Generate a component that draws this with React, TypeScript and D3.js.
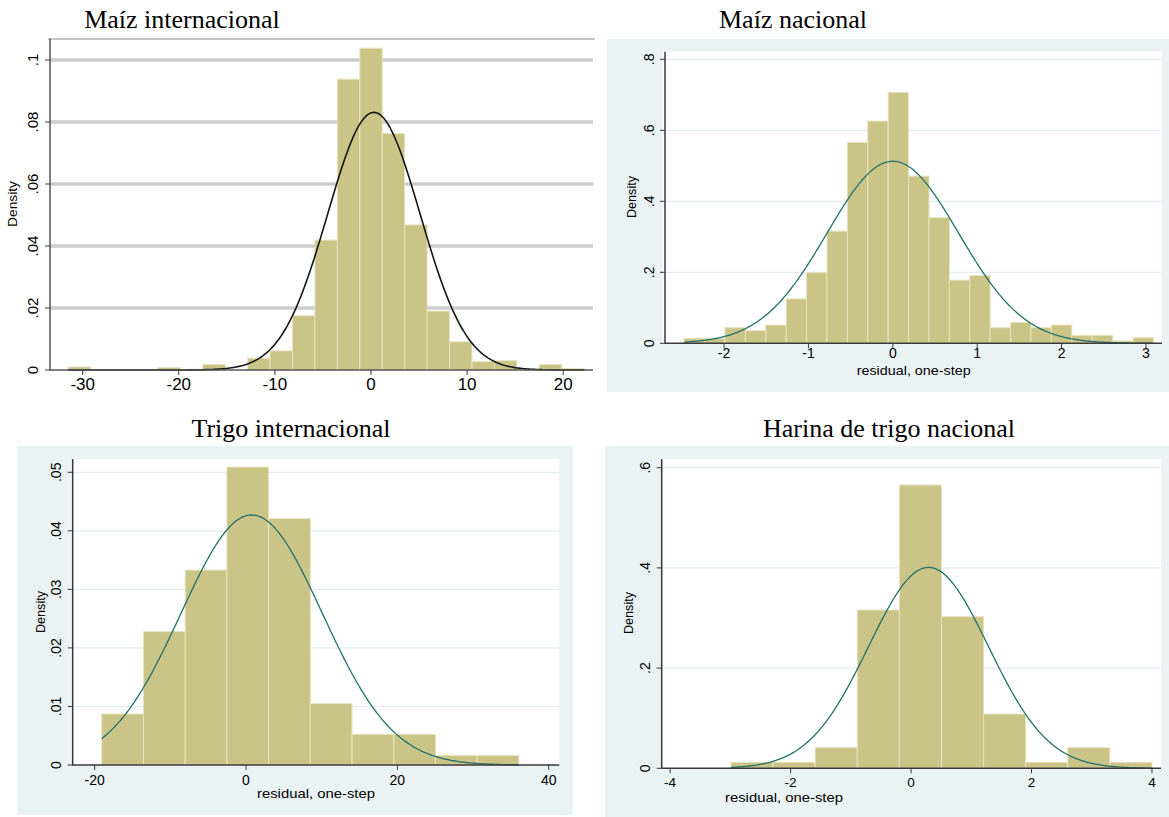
import React from "react";
import * as d3 from "d3";

// ---------- Data ----------
// Panel 1: Maíz internacional
const maizIntBinStart = -31.52;
const maizIntBinWidth = 2.335;
const maizIntDensity = [
  0.001, 0, 0, 0, 0.0008, 0, 0.0018, 0, 0.0038, 0.0062, 0.0175, 0.0419, 0.0938,
  0.1038, 0.0763, 0.0468, 0.019, 0.0091, 0.0027, 0.003, 0, 0.0018, 0.0005,
];
const maizIntMu = 0.3;
const maizIntSigma = 4.8;
const maizIntXTicks = [-30, -20, -10, 0, 10, 20];
const maizIntYTicks = [0, 0.02, 0.04, 0.06, 0.08, 0.1];

// Panel 2: Maíz nacional
const maizNacBinStart = -2.473;
const maizNacBinWidth = 0.2418;
const maizNacDensity = [
  0.014, 0.014, 0.044, 0.0355, 0.0515, 0.125, 0.199, 0.316, 0.566, 0.626, 0.707,
  0.471, 0.354, 0.178, 0.191, 0.044, 0.059, 0.044, 0.0515, 0.0225, 0.0225, 0.0065,
  0.0158,
];
const maizNacMu = 0.0;
const maizNacSigma = 0.778;
const maizNacXTicks = [-2, -1, 0, 1, 2, 3];
const maizNacYTicks = [0, 0.2, 0.4, 0.6, 0.8];

// Panel 3: Trigo internacional
const trigoIntBinStart = -19.06;
const trigoIntBinWidth = 5.512;
const trigoIntDensity = [
  0.00872, 0.0228, 0.0333, 0.0509, 0.0421, 0.0105, 0.00524, 0.00524, 0.00165, 0.00165,
];
const trigoIntMu = 0.75;
const trigoIntSigma = 9.34;
const trigoIntXTicks = [-20, 0, 20, 40];
const trigoIntYTicks = [0, 0.01, 0.02, 0.03, 0.04, 0.05];

// Panel 4: Harina de trigo nacional
const harinaBinStart = -2.99;
const harinaBinWidth = 0.699;
const harinaDensity = [
  0.012, 0.012, 0.0412, 0.316, 0.5655, 0.3026, 0.1084, 0.012, 0.0412, 0.012,
];
const harinaMu = 0.29;
const harinaSigma = 0.995;
const harinaXTicks = [-4, -2, 0, 2, 4];
const harinaYTicks = [0, 0.2, 0.4, 0.6];

const titles = [
  "Maíz internacional",
  "Maíz nacional",
  "Trigo internacional",
  "Harina de trigo nacional",
];
const xAxisTitle = "residual, one-step";
const yAxisTitle = "Density";

// ---------- Styles ----------
const BAR_FILL = "#cbc487";
const BAR_STROKE = "#e7e3c2";
const BG = "#eaf2f3";
const GRID = "#e3ecef";
const AXIS = "#3a3a3a";
const TEAL = "#25706b";
const SANS = "'Liberation Sans', Arial, sans-serif";
const SERIF = "'Liberation Serif', 'Times New Roman', serif";

type PanelCfg = {
  title: string;
  titleX: number;
  titleY: number;
  bg?: [number, number, number, number];
  plot?: [number, number, number, number];
  xDomain: [number, number];
  xRange: [number, number];
  yDomain: [number, number];
  yRange: [number, number];
  xTicks: number[];
  yTicks: number[];
  binStart: number;
  binWidth: number;
  density: number[];
  mu: number;
  sigma: number;
  curveColor: string;
  curveWidth: number;
  classic: boolean;
  xTickFont: number;
  yTickFont: number;
  xTickDy: number;
  yTickDx: number;
  xLabel?: { x: number; y: number; len: number };
  densityLabel: { x: number; y: number; len: number; size: number };
  axisTop: number;
  axisRight: number;
};

const fmtY = (v: number) =>
  v === 0 ? "0" : d3.format(".2~f")(v).replace(/^0/, "");

function Panel({ c }: { c: PanelCfg }) {
  const x = d3.scaleLinear().domain(c.xDomain).range(c.xRange);
  const y = d3.scaleLinear().domain(c.yDomain).range(c.yRange);
  const y0 = y(0);
  const binEnd = c.binStart + c.binWidth * c.density.length;
  const pdf = (v: number) =>
    Math.exp(-0.5 * ((v - c.mu) / c.sigma) ** 2) / (c.sigma * Math.sqrt(2 * Math.PI));
  const pts = d3.range(0, 301).map((i) => {
    const v = c.binStart + ((binEnd - c.binStart) * i) / 300;
    return [v, pdf(v)] as [number, number];
  });
  const line = d3
    .line<[number, number]>()
    .x((d) => x(d[0]))
    .y((d) => y(d[1]));
  const axisLeft = c.xRange[0];

  return (
    <g>
      {c.bg && (
        <rect x={c.bg[0]} y={c.bg[1]} width={c.bg[2] - c.bg[0]} height={c.bg[3] - c.bg[1]} fill={BG} />
      )}
      {c.plot && (
        <rect
          x={c.plot[0]}
          y={c.plot[1]}
          width={c.plot[2] - c.plot[0]}
          height={c.plot[3] - c.plot[1]}
          fill="#fff"
        />
      )}
      <text
        x={c.titleX}
        y={c.titleY}
        textAnchor="middle"
        fontFamily={SERIF}
        fontSize={26}
        fill="#000"
      >
        {c.title}
      </text>
      {/* grid */}
      {c.yTicks
        .filter((t) => t !== 0)
        .map((t) =>
          c.classic ? (
            <g key={"g" + t}>
              <line x1={axisLeft} x2={c.axisRight} y1={y(t)} y2={y(t)} stroke="#b4b4b4" strokeWidth={3} />
              <line x1={axisLeft} x2={c.axisRight} y1={y(t)} y2={y(t)} stroke="#e6e6e6" strokeWidth={1} />
            </g>
          ) : (
            <line key={"g" + t} x1={axisLeft} x2={c.axisRight} y1={y(t)} y2={y(t)} stroke={GRID} strokeWidth={1.2} />
          )
        )}
      {c.classic && (
        <line x1={axisLeft - 2} x2={c.axisRight + 2} y1={c.axisTop} y2={c.axisTop} stroke="#b0b0b0" strokeWidth={1.5} />
      )}
      {/* bars */}
      {c.density.map((d, i) =>
        d > 0 ? (
          <rect
            key={"b" + i}
            x={x(c.binStart + i * c.binWidth)}
            y={y(d)}
            width={x(c.binStart + (i + 1) * c.binWidth) - x(c.binStart + i * c.binWidth)}
            height={y0 - y(d)}
            fill={BAR_FILL}
            stroke={BAR_STROKE}
            strokeWidth={1}
          />
        ) : null
      )}
      {/* normal curve */}
      <path d={line(pts) || ""} fill="none" stroke={c.curveColor} strokeWidth={c.curveWidth} />
      {/* axes */}
      <line x1={axisLeft} x2={axisLeft} y1={c.axisTop} y2={y0 + 0.5} stroke={c.classic ? "#555" : AXIS} strokeWidth={1.5} />
      <line x1={axisLeft} x2={c.axisRight} y1={y0} y2={y0} stroke={c.classic ? "#555" : AXIS} strokeWidth={1.5} />
      {c.yTicks.map((t) => (
        <g key={"yt" + t}>
          <line x1={axisLeft - 5} x2={axisLeft} y1={y(t)} y2={y(t)} stroke={AXIS} strokeWidth={1} />
          <text
            transform={`translate(${axisLeft - c.yTickDx},${y(t)}) rotate(-90)`}
            textAnchor="middle"
            fontFamily={SANS}
            fontSize={c.yTickFont}
            fill="#000"
          >
            {fmtY(t)}
          </text>
        </g>
      ))}
      {c.xTicks.map((t) => (
        <g key={"xt" + t}>
          <line x1={x(t)} x2={x(t)} y1={y0} y2={y0 + 5} stroke={AXIS} strokeWidth={1} />
          <text
            x={x(t)}
            y={y0 + c.xTickDy}
            textAnchor="middle"
            fontFamily={SANS}
            fontSize={c.xTickFont}
            fill="#000"
          >
            {t}
          </text>
        </g>
      ))}
      {c.xLabel && (
        <text
          x={c.xLabel.x}
          y={c.xLabel.y}
          textAnchor="middle"
          fontFamily={SANS}
          fontSize={13.5}
          textLength={c.xLabel.len}
          lengthAdjust="spacingAndGlyphs"
          fill="#000"
        >
          {xAxisTitle}
        </text>
      )}
      <text
        transform={`translate(${c.densityLabel.x},${c.densityLabel.y}) rotate(-90)`}
        textAnchor="middle"
        fontFamily={SANS}
        fontSize={c.densityLabel.size}
        textLength={c.densityLabel.len}
        lengthAdjust="spacingAndGlyphs"
        fill="#000"
      >
        {yAxisTitle}
      </text>
    </g>
  );
}

const panels: PanelCfg[] = [
  {
    title: titles[0],
    titleX: 182,
    titleY: 28,
    xDomain: [-33.4, 23.1],
    xRange: [50, 593],
    yDomain: [0, 0.1],
    yRange: [370, 60],
    xTicks: maizIntXTicks,
    yTicks: maizIntYTicks,
    binStart: maizIntBinStart,
    binWidth: maizIntBinWidth,
    density: maizIntDensity,
    mu: maizIntMu,
    sigma: maizIntSigma,
    curveColor: "#151515",
    curveWidth: 1.6,
    classic: true,
    xTickFont: 17,
    yTickFont: 15,
    xTickDy: 20,
    yTickDx: 12,
    densityLabel: { x: 17, y: 204, len: 46, size: 12 },
    axisTop: 39,
    axisRight: 593,
  },
  {
    title: titles[1],
    titleX: 793,
    titleY: 28,
    bg: [607, 39, 1169, 392],
    plot: [663, 51.7, 1162, 343.3],
    xDomain: [-2.7, 3.19],
    xRange: [665, 1162],
    yDomain: [0, 0.8],
    yRange: [343.3, 59.3],
    xTicks: maizNacXTicks,
    yTicks: maizNacYTicks,
    binStart: maizNacBinStart,
    binWidth: maizNacBinWidth,
    density: maizNacDensity,
    mu: maizNacMu,
    sigma: maizNacSigma,
    curveColor: TEAL,
    curveWidth: 1.3,
    classic: false,
    xTickFont: 14,
    yTickFont: 14,
    xTickDy: 15,
    yTickDx: 11,
    xLabel: { x: 913.7, y: 375, len: 114 },
    densityLabel: { x: 636, y: 197, len: 42, size: 13 },
    axisTop: 51.7,
    axisRight: 1162,
  },
  {
    title: titles[2],
    titleX: 291,
    titleY: 437,
    bg: [17, 446, 573, 815],
    plot: [72.7, 459, 559.3, 765],
    xDomain: [-22.9, 41.4],
    xRange: [72.7, 559.3],
    yDomain: [0, 0.05],
    yRange: [765, 472.3],
    xTicks: trigoIntXTicks,
    yTicks: trigoIntYTicks,
    binStart: trigoIntBinStart,
    binWidth: trigoIntBinWidth,
    density: trigoIntDensity,
    mu: trigoIntMu,
    sigma: trigoIntSigma,
    curveColor: TEAL,
    curveWidth: 1.3,
    classic: false,
    xTickFont: 14,
    yTickFont: 14,
    xTickDy: 20,
    yTickDx: 12,
    xLabel: { x: 316, y: 798, len: 118 },
    densityLabel: { x: 45, y: 612, len: 42, size: 13 },
    axisTop: 459,
    axisRight: 559.3,
  },
  {
    title: titles[3],
    titleX: 889,
    titleY: 437,
    bg: [605, 446, 1169, 817],
    plot: [661.7, 459, 1161, 768.3],
    xDomain: [-4.14, 4.15],
    xRange: [661.7, 1161],
    yDomain: [0, 0.6],
    yRange: [768.3, 467.7],
    xTicks: harinaXTicks,
    yTicks: harinaYTicks,
    binStart: harinaBinStart,
    binWidth: harinaBinWidth,
    density: harinaDensity,
    mu: harinaMu,
    sigma: harinaSigma,
    curveColor: TEAL,
    curveWidth: 1.3,
    classic: false,
    xTickFont: 13.5,
    yTickFont: 14,
    xTickDy: 19,
    yTickDx: 12,
    xLabel: { x: 784, y: 802, len: 118 },
    densityLabel: { x: 633, y: 613, len: 42, size: 13 },
    axisTop: 459,
    axisRight: 1161,
  },
];

export default function App() {
  return (
    <svg
      width={1169}
      height={817}
      style={{ position: "absolute", left: 0, top: 0, background: "#fff" }}
    >
      {panels.map((p, i) => (
        <Panel key={i} c={p} />
      ))}
    </svg>
  );
}
